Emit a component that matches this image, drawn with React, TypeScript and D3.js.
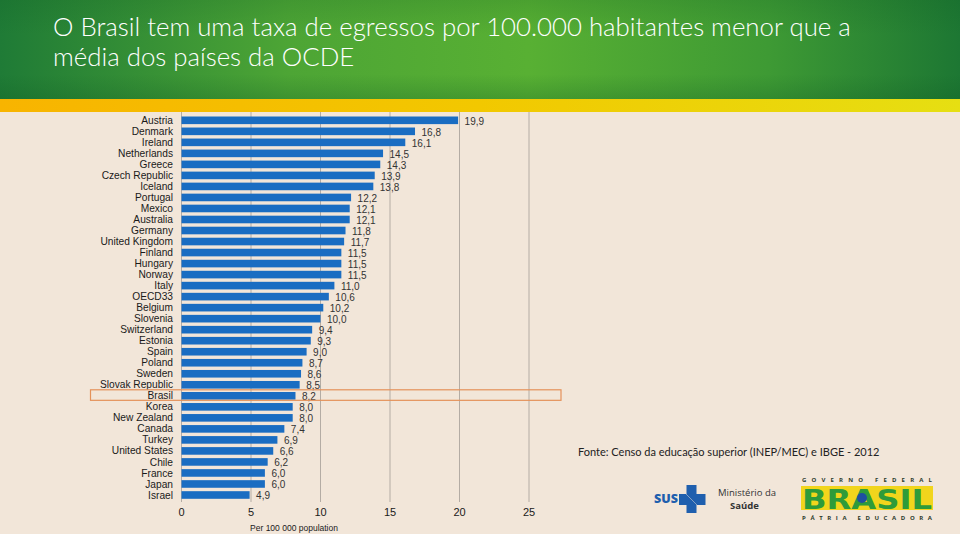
import React from "react";
import * as d3 from "d3";

const countries = [
  "Austria", "Denmark", "Ireland", "Netherlands", "Greece", "Czech Republic", "Iceland",
  "Portugal", "Mexico", "Australia", "Germany", "United Kingdom", "Finland", "Hungary",
  "Norway", "Italy", "OECD33", "Belgium", "Slovenia", "Switzerland", "Estonia", "Spain",
  "Poland", "Sweden", "Slovak Republic", "Brasil", "Korea", "New Zealand", "Canada",
  "Turkey", "United States", "Chile", "France", "Japan", "Israel",
];
const values = [
  19.9, 16.8, 16.1, 14.5, 14.3, 13.9, 13.8, 12.2, 12.1, 12.1, 11.8, 11.7, 11.5, 11.5,
  11.5, 11.0, 10.6, 10.2, 10.0, 9.4, 9.3, 9.0, 8.7, 8.6, 8.5, 8.2, 8.0, 8.0, 7.4,
  6.9, 6.6, 6.2, 6.0, 6.0, 4.9,
];
const xTicks = [0, 5, 10, 15, 20, 25];
const highlight = "Brasil";
const titleLines = [
  "O Brasil tem uma taxa de egressos por 100.000 habitantes menor que a",
  "média dos países da OCDE",
];
const axisTitle = "Per 100 000 population";
const sourceText = "Fonte: Censo da educação superior (INEP/MEC) e IBGE - 2012";

const W = 960;
const H = 534;

export default function App() {
  const x = d3.scaleLinear().domain([0, 25]).range([181.5, 529]);
  const y = d3
    .scaleBand<string>()
    .domain(countries)
    .range([114.8, 500.5])
    .paddingInner(0.31)
    .paddingOuter(0.155);
  const fmt = (v: number) => d3.format(".1f")(v).replace(".", ",");
  const bw = y.bandwidth();
  const step = y.step();
  const hy = (y(highlight) as number) + bw / 2;

  return (
    <svg
      width={W}
      height={H}
      style={{ position: "absolute", left: 0, top: 0, display: "block" }}
      fontFamily="'Liberation Sans', Arial, sans-serif"
    >
      <defs>
        <linearGradient id="gh" x1="0" x2="1" y1="0" y2="0">
          <stop offset="0" stopColor="#1f7b36" />
          <stop offset="0.3" stopColor="#4da535" />
          <stop offset="0.55" stopColor="#58b033" />
          <stop offset="0.8" stopColor="#3e9a34" />
          <stop offset="1" stopColor="#1d7733" />
        </linearGradient>
        <linearGradient id="gv" x1="0" x2="0" y1="0" y2="1">
          <stop offset="0" stopColor="#0d5a20" stopOpacity="0.18" />
          <stop offset="0.35" stopColor="#0d5a20" stopOpacity="0" />
          <stop offset="0.75" stopColor="#0d5a20" stopOpacity="0" />
          <stop offset="1" stopColor="#0d5a20" stopOpacity="0.25" />
        </linearGradient>
        <linearGradient id="gy" x1="0" x2="1" y1="0" y2="0">
          <stop offset="0" stopColor="#f8b400" />
          <stop offset="0.5" stopColor="#f2c800" />
          <stop offset="1" stopColor="#e6df12" />
        </linearGradient>
      </defs>
      <rect x={0} y={0} width={W} height={H} fill="#f2e6d9" />
      <rect x={0} y={0} width={W} height={99} fill="url(#gh)" />
      <rect x={0} y={0} width={W} height={99} fill="url(#gv)" />
      <rect x={0} y={99} width={W} height={13} fill="url(#gy)" />

      {titleLines.map((t, i) => (
        <text
          key={i}
          x={53}
          y={36 + i * 29.5}
          fill="#ffffff"
          fontFamily="Lato, 'Open Sans', sans-serif"
          fontWeight={300}
          fontSize={25.8}
        >
          {t}
        </text>
      ))}

      {/* gridlines */}
      {xTicks.map((t) => (
        <line
          key={t}
          x1={x(t)}
          x2={x(t)}
          y1={112}
          y2={502}
          stroke="#b4aca4"
          strokeWidth={1}
        />
      ))}

      {/* bars */}
      {countries.map((c, i) => (
        <g key={c}>
          <rect
            x={x(0)}
            y={y(c) as number}
            width={x(values[i]) - x(0)}
            height={bw}
            fill="#1a6dc2"
          />
          <text
            x={173}
            y={(y(c) as number) + bw / 2}
            dy="0.35em"
            textAnchor="end"
            fontSize={10.2}
            fill="#1a1a1a"
          >
            {c}
          </text>
          <text
            x={x(values[i]) + 6.5}
            y={(y(c) as number) + bw / 2 + 1}
            dy="0.35em"
            fontSize={10}
            fill="#333333"
          >
            {fmt(values[i])}
          </text>
        </g>
      ))}

      {/* highlight box */}
      <rect
        x={90.5}
        y={hy - step / 2 - 0.5}
        width={470.5}
        height={step - 0.5}
        fill="none"
        stroke="#e4925a"
        strokeWidth={1.2}
      />

      {/* x axis ticks */}
      {xTicks.map((t) => (
        <text
          key={t}
          x={x(t)}
          y={516}
          textAnchor="middle"
          fontSize={11}
          fill="#1a1a1a"
        >
          {t}
        </text>
      ))}
      <text x={294} y={531} textAnchor="middle" fontSize={8.5} fill="#1a1a1a">
        {axisTitle}
      </text>

      {/* source */}
      <text
        x={578}
        y={456}
        fontFamily="Lato, 'Open Sans', sans-serif"
        fontSize={11}
        fill="#222222"
      >
        {sourceText}
      </text>

      {/* SUS logo */}
      <text
        x={654}
        y={503}
        fontFamily="'Open Sans', sans-serif"
        fontWeight={800}
        fontSize={12.5}
        fill="#1f5fae"
      >
        SUS
      </text>
      <path
        d="M686.5,485 H696.5 V494 H705.5 V505 H696.5 V513 H686.5 V505 H679 V494 H686.5 Z"
        fill="#1f5fae"
      />
      <line x1={686} x2={697} y1={494} y2={505} stroke="#f2e6d9" strokeWidth={0.8} opacity={0.6} />
      <text x={718} y={496} fontFamily="'Open Sans', sans-serif" fontSize={9.5} fill="#333">
        Ministério da
      </text>
      <text
        x={730}
        y={509}
        fontFamily="'Open Sans', sans-serif"
        fontWeight={700}
        fontSize={9.5}
        fill="#333"
      >
        Saúde
      </text>

      {/* Brasil logo */}
      <text
        x={802}
        y={482}
        fontFamily="'Open Sans', sans-serif"
        fontWeight={700}
        fontSize={6}
        textLength={130}
        lengthAdjust="spacing"
        fill="#2c3a2c"
      >
        GOVERNO FEDERAL
      </text>
      <rect x={801} y={486} width={132} height={24} fill="#f1d51c" />
      <text
        x={867}
        y={508.5}
        textAnchor="middle"
        fontFamily="'DejaVu Sans', sans-serif"
        fontWeight={700}
        fontSize={26}
        textLength={130}
        lengthAdjust="spacingAndGlyphs"
        fill="#2e9b3a"
      >
        BRASIL
      </text>
      <ellipse cx={862} cy={498} rx={5} ry={5} fill="#1e4fa0" />
      <text
        x={802}
        y={520}
        fontFamily="'Open Sans', sans-serif"
        fontWeight={700}
        fontSize={6}
        textLength={130}
        lengthAdjust="spacing"
        fill="#2c3a2c"
      >
        PÁTRIA EDUCADORA
      </text>
    </svg>
  );
}
